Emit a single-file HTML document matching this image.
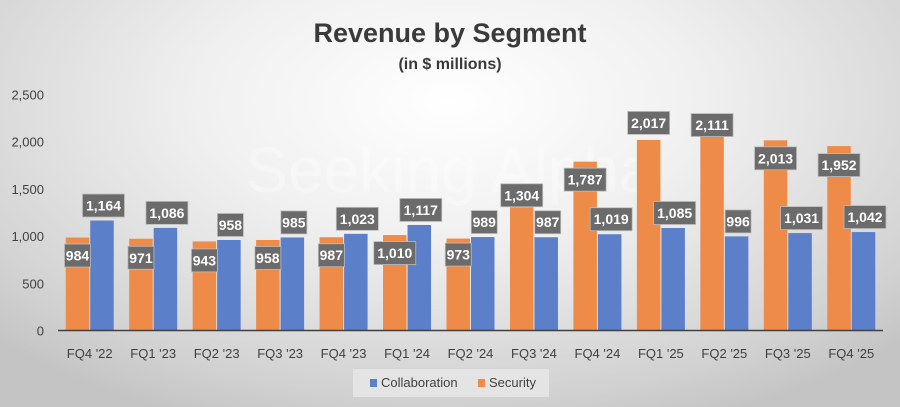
<!DOCTYPE html>
<html><head><meta charset="utf-8">
<style>
html,body{margin:0;padding:0;}
body{width:900px;height:407px;overflow:hidden;font-family:"Liberation Sans",sans-serif;}
#chart{display:block;background:radial-gradient(ellipse 70% 85% at 50% 25%,#ffffff 0%,#f0f0f0 40%,#d2d2d2 85%,#c4c4c4 100%);}
</style></head>
<body>
<svg id="chart" width="900" height="407" xmlns="http://www.w3.org/2000/svg">
  <text x="450" y="42" text-anchor="middle" font-size="27" font-weight="bold" fill="#3a3a3a">Revenue by Segment</text>
  <text x="450" y="69" text-anchor="middle" font-size="16" font-weight="bold" fill="#3a3a3a">(in $ millions)</text>
  <text x="450" y="192" text-anchor="middle" font-size="64" fill="#ffffff" opacity="0.35">Seeking Alpha</text>
  <g id="yaxis"></g>
  <g id="bars"></g>
  <g id="labels"></g>
  <g id="xaxis"></g>
  <g>
    <rect x="353" y="369" width="196" height="28" fill="#e4e4e4"/>
    <rect x="370" y="379" width="7" height="8" fill="#5b7fc9"/>
    <text x="381" y="387" font-size="13" fill="#404040">Collaboration</text>
    <rect x="478" y="379" width="7" height="8" fill="#ee8b48"/>
    <text x="489" y="387" font-size="13" fill="#404040">Security</text>
  </g>
</svg>
<script>
const categories = ["FQ4 '22","FQ1 '23","FQ2 '23","FQ3 '23","FQ4 '23","FQ1 '24","FQ2 '24","FQ3 '24","FQ4 '24","FQ1 '25","FQ2 '25","FQ3 '25","FQ4 '25"];
const security = [984,971,943,958,987,1010,973,1304,1787,2017,2111,2013,1952];
const collaboration = [1164,1086,958,985,1023,1117,989,987,1019,1085,996,1031,1042];
const yTicks = [0,500,1000,1500,2000,2500];
const securityLabelOffset = [18,19,19,18,18,18,16,-12,18,-17,-6,18,19];

const NS = "http://www.w3.org/2000/svg";
const plotL = 58, plotR = 883, y0 = 330.5, yTop = 94.3, yMax = 2500;
const step = (plotR - plotL) / categories.length;
const barW = 23.5;
function yScale(v){ return y0 - (v / yMax) * (y0 - yTop); }
function xCenter(i){ return plotL + step * (i + 0.5); }
function mk(tag, attrs, parent){
  const e = document.createElementNS(NS, tag);
  for (const k in attrs) e.setAttribute(k, attrs[k]);
  parent.appendChild(e);
  return e;
}
const fmt = v => v.toLocaleString("en-US");

const yaxis = document.getElementById("yaxis");
yTicks.forEach(t => {
  const tx = mk("text", {x: 44, y: yScale(t) + 5, "text-anchor": "end", "font-size": 13, fill: "#404040"}, yaxis);
  
  
  tx.textContent = fmt(t);
});

const bars = document.getElementById("bars");
const labels = document.getElementById("labels");
const xaxis = document.getElementById("xaxis");

function addLabel(cx, cy, v, name){
  const s = fmt(v);
  const w = s.length * 8 + 2;
  const r = mk("rect", {x: cx - w/2, y: cy - 11.5, width: w, height: 23, fill: "#6b6b6b", stroke: "#bdbdbd", "stroke-width": 0.8}, labels);
  
  
  const t = mk("text", {x: cx, y: cy + 5, "text-anchor": "middle", "font-size": 14, "font-weight": "bold", fill: "#ffffff"}, labels);
  
  
  t.textContent = s;
}

categories.forEach((c, i) => {
  const cx = xCenter(i);
  const ys = yScale(security[i]);
  const b1 = mk("rect", {x: cx - barW - 0.5, y: ys, width: barW, height: y0 - ys, fill: "#ee8b48"}, bars);
  
  
  const yc = yScale(collaboration[i]);
  const b2 = mk("rect", {x: cx + 0.5, y: yc, width: barW, height: y0 - yc, fill: "#5b7fc9"}, bars);
  
  
  addLabel(cx - barW/2 - 0.5, ys + securityLabelOffset[i], security[i], 'security-value-label');
  addLabel(cx + barW/2 + 2, yc - 15, collaboration[i], 'collaboration-value-label');
  const xl = mk("text", {x: cx, y: 358, "text-anchor": "middle", "font-size": 13, fill: "#404040"}, xaxis);
  
  
  xl.textContent = c;
});
const axisLine = mk("line", {x1: plotL, x2: plotR, y1: y0, y2: y0, stroke: "#404040", "stroke-width": 1.5}, xaxis);


</script>
</body></html>
